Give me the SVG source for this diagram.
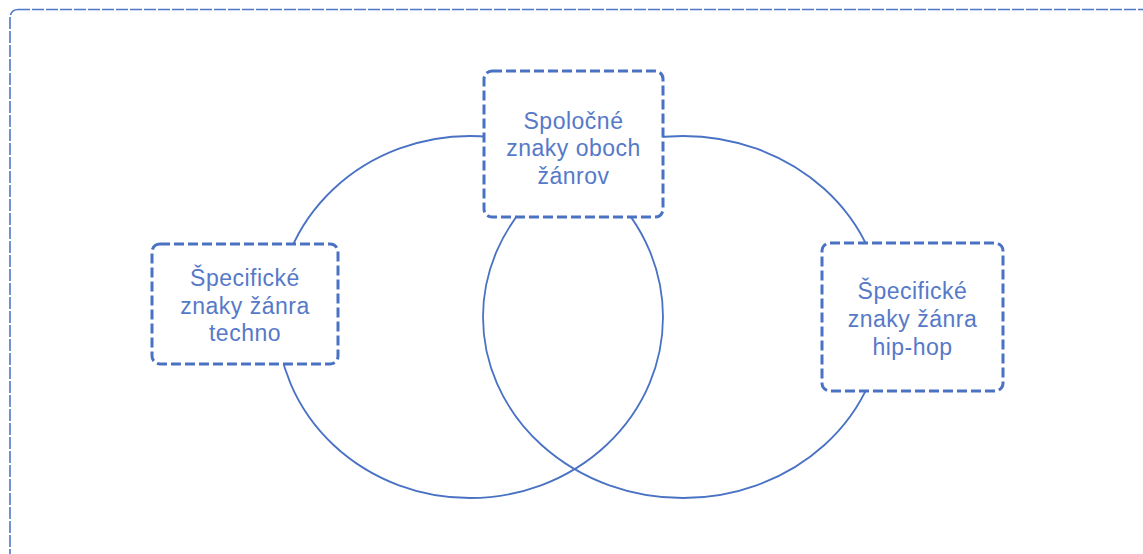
<svg xmlns="http://www.w3.org/2000/svg" width="1143" height="554" viewBox="0 0 1143 554">
<style>
.frame{fill:none;stroke:#4f77c6;stroke-width:1.6;stroke-dasharray:12 2}
.ring{fill:none;stroke:#4a72c4;stroke-width:1.8}
.box{fill:#ffffff;stroke:#4a72c4;stroke-width:3;stroke-dasharray:10 4}
.lbl{font-family:"Liberation Sans",Arial,sans-serif;font-size:23px;letter-spacing:0.5px;fill:#5679c8;text-anchor:middle}
</style>
<rect width="1143" height="554" fill="#ffffff"/>
<rect class="frame" x="10" y="9.5" width="1160" height="560" rx="8"/>
<g id="connectors">
<ellipse class="ring" cx="470" cy="317" rx="193" ry="181"/>
<ellipse class="ring" cx="683" cy="317" rx="200" ry="181"/>
</g>
<g id="node-common">
<rect class="box" x="484" y="71" width="179" height="146" rx="8"/>
<text class="lbl" x="573.5" y="128.5">Spoločné</text>
<text class="lbl" x="573.5" y="156">znaky oboch</text>
<text class="lbl" x="573.5" y="183.5">žánrov</text>
</g>
<g id="node-techno">
<rect class="box" x="152" y="244" width="186" height="120" rx="8"/>
<text class="lbl" x="245" y="286">Špecifické</text>
<text class="lbl" x="245" y="313.5">znaky žánra</text>
<text class="lbl" x="245" y="341">techno</text>
</g>
<g id="node-hiphop">
<rect class="box" x="822" y="243" width="181" height="148" rx="8"/>
<text class="lbl" x="912.5" y="299">Špecifické</text>
<text class="lbl" x="912.5" y="327">znaky žánra</text>
<text class="lbl" x="912.5" y="355">hip-hop</text>
</g>
</svg>
